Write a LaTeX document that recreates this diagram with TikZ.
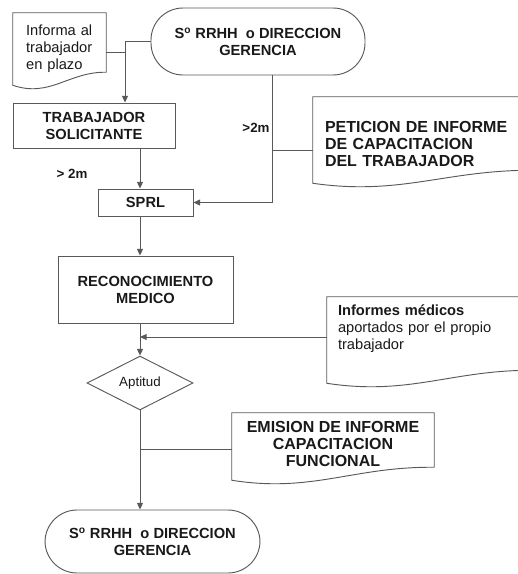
\documentclass[tikz,border=0pt]{standalone}
\usepackage{fontspec}
\setmainfont{Liberation Sans}
\usetikzlibrary{arrows.meta,calc,shapes.geometric}

\tikzset{
  box/.style={draw=black!65, line width=0.7pt, inner sep=0pt, align=center,
    font=\fontsize{11}{12.75}\selectfont\bfseries, text=black!90},
  term/.style={box, rounded corners=24pt},
  doctext/.style={inner sep=0pt, font=\fontsize{11}{12.75}\selectfont, text=black!90},
  bigdoc/.style={doctext, font=\fontsize{12}{12.75}\selectfont\bfseries},
  cond/.style={diamond, draw=black!65, line width=0.7pt, inner sep=0pt,
    font=\fontsize{10}{12}\selectfont, text=black!90},
  line/.style={draw=black!65, line width=0.7pt},
  flow/.style={line, -{Triangle[length=5pt,width=4.5pt]}},
  lbl/.style={font=\fontsize{10}{12}\selectfont\bfseries, text=black!90},
}

% document outline round a node, #2 = extra drop of the wavy bottom
\newcommand{\docshape}[2]{%
  \path ($(#1.south west)+(0,#2)$) coordinate (#1-l)
        ($(#1.south east)+(0,#2-13)$) coordinate (#1-r);
  \draw[line] (#1.north west) -- (#1-l)
    .. controls ($(#1-l)!0.4!(#1-r)+(0,18)$) and ($(#1-l)!0.6!(#1-r)+(0,-6)$) .. (#1-r)
    -- (#1.north east) -- cycle;}

\begin{document}
\begin{tikzpicture}[x=0.75pt,y=-0.75pt]
\useasboundingbox (0,0) rectangle (517,574);

\coordinate (ax) at (140,0);
\coordinate (j1) at (125,52);
\coordinate (j2) at (272,150);
\coordinate (j3) at (140,337);
\coordinate (j4) at (140,449);

\node[term, minimum width=160.5pt, minimum height=50.25pt] (rr1) at (258,41.5)
  {S\textsuperscript{o} RRHH\ \ o DIRECCION\\GERENCIA};

\node[doctext, text width=50pt, minimum width=69.75pt, minimum height=54pt, align=left]
  (info) at (59.5,49) {Informa al\\trabajador\\en plazo};
\docshape{info}{0}

\node[box, minimum width=121.5pt, minimum height=33.75pt] (trab) at (94,125.5)
  {TRABAJADOR\\SOLICITANTE};
\node[box, minimum width=71.25pt, minimum height=20.25pt] (sprl) at (145.5,202.5) {SPRL};
\node[box, minimum width=131.25pt, minimum height=50.25pt] (reco) at (145.5,289.5)
  {RECONOCIMIENTO\\MEDICO};
\node[cond, minimum width=79.5pt, minimum height=30pt] (apt) at (140,383) {Aptitud};
\node[term, minimum width=161.25pt, minimum height=47.25pt] (rr2) at (152.5,541.5)
  {S\textsuperscript{o} RRHH\ \ o DIRECCION\\GERENCIA};

\node[bigdoc, text width=148.5pt, minimum width=166.5pt,
  minimum height=70.5pt, align=left] (pet) at (424,144)
  {PETICION DE INFORME\\DE CAPACITACION\\DEL TRABAJADOR};
\docshape{pet}{-8}

\node[doctext, text width=139.5pt, minimum width=156pt, minimum height=48pt, align=left]
  (med) at (431,329) {\textbf{Informes médicos}\\aportados por el propio\\trabajador};
\docshape{med}{22}

\node[bigdoc, minimum width=151.5pt, minimum height=46.5pt, align=center]
  (emi) at (333,444) {EMISION DE INFORME\\CAPACITACION\\FUNCIONAL};
\docshape{emi}{5}

\node[lbl] (g1) at (256,128) {>2m};
\node[lbl] (g2) at (72,174) {> 2m};

\draw[flow] (rr1.west) -| (trab.north -| j1);
\draw[line] (j1 -| info.east) -- (j1);
\draw[flow] (trab.south -| ax) -- (sprl.north -| ax);
\draw[flow] (rr1.south -| j2) |- (sprl.east);
\draw[line] (j2) -- (j2 -| pet.west);
\draw[flow] (sprl.south -| ax) -- (reco.north -| ax);
\draw[flow] (reco.south -| ax) -- (apt.north);
\draw[flow] (j3 -| med.west) -- (j3);
\draw[flow] (apt.south) -- (rr2.north -| ax);
\draw[line] (j4) -- (j4 -| emi.west);

\end{tikzpicture}
\end{document}
